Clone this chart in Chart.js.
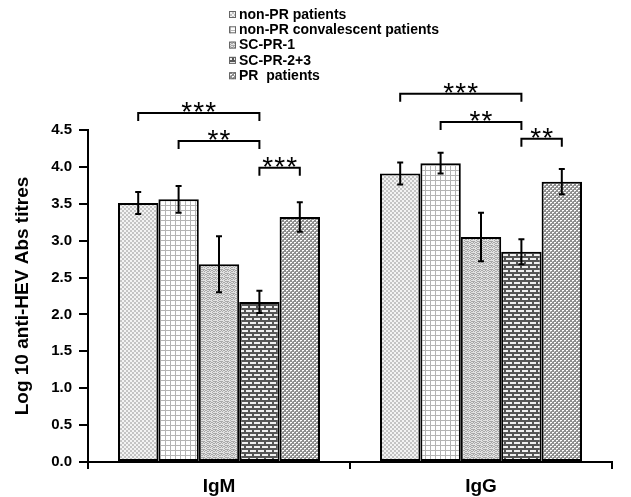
<!DOCTYPE html>
<html>
<head>
<meta charset="utf-8">
<script src="https://cdn.jsdelivr.net/npm/chart.js@4.4.1/dist/chart.umd.min.js"></script>
<style>
html,body{margin:0;padding:0;background:#fff;}
#wrap{width:631px;height:497px;}
</style>
</head>
<body>
<div id="wrap"><canvas id="c" width="631" height="497"></canvas></div>
<script>
// ---- data ----
const categories = ['IgM', 'IgG'];
const seriesLabels = ['non-PR patients', 'non-PR convalescent patients', 'SC-PR-1', 'SC-PR-2+3', 'PR  patients'];
const nonPR    = [3.51, 3.91];
const nonPRConv= [3.56, 4.05];
const scPR1    = [2.68, 3.05];
const scPR23   = [2.17, 2.85];
const prPat    = [3.32, 3.80];
const nonPRErr    = [0.15, 0.15];
const nonPRConvErr= [0.18, 0.14];
const scPR1Err    = [0.38, 0.33];
const scPR23Err   = [0.15, 0.17];
const prPatErr    = [0.20, 0.17];
const yMin = 0, yMax = 4.5, yStep = 0.5;
// significance brackets: category index, from series, to series, level, label
const bracketCat   = [0, 0, 0, 1, 1, 1];
const bracketFrom  = [0, 1, 3, 0, 1, 3];
const bracketTo    = [3, 3, 4, 3, 3, 4];
const bracketLevel = [4.73, 4.35, 3.99, 4.99, 4.61, 4.38];
const bracketLabel = ['***', '**', '***', '***', '**', '**'];

const seriesValues = [nonPR, nonPRConv, scPR1, scPR23, prPat];
const seriesErrors = [nonPRErr, nonPRConvErr, scPR1Err, scPR23Err, prPatErr];

// ---- patterns ----
function makePattern(w, h, draw) {
  const c = document.createElement('canvas');
  c.width = w; c.height = h;
  const g = c.getContext('2d');
  draw(g);
  return document.getElementById('c').getContext('2d').createPattern(c, 'repeat');
}
const patterns = [
  makePattern(4, 4, g => { g.fillStyle = '#f3f3f3'; g.fillRect(0,0,4,4); g.fillStyle = '#c4c4c4'; g.fillRect(0,0,2,2); g.fillRect(2,2,2,2); }),
  makePattern(5, 5, g => { g.fillStyle = '#ffffff'; g.fillRect(0,0,5,5); g.fillStyle = '#b4b4b4'; g.fillRect(0,0,5,1); g.fillRect(0,0,1,5); }),
  makePattern(6, 4, g => { g.fillStyle = '#a8a8a8'; g.fillRect(0,0,6,4); g.fillStyle = '#e2e2e2';
    g.fillRect(0,0,2,1); g.fillRect(1,1,2,1); g.fillRect(3,0,3,1);
    g.fillRect(0,2,1,1); g.fillRect(3,2,2,1); g.fillRect(1,3,2,1); g.fillRect(5,3,1,1); }),
  makePattern(8, 8, g => { g.fillStyle = '#f0f0f0'; g.fillRect(0,0,8,8); g.fillStyle = '#555555';
    g.fillRect(0,0,8,2); g.fillRect(0,4,8,2); g.fillRect(0,2,2,2); g.fillRect(4,6,2,2); }),
  makePattern(4, 4, g => { g.fillStyle = '#8e8e8e'; g.fillRect(0,0,4,4); g.fillStyle = '#ffffff'; g.fillRect(0,0,2,1); g.fillRect(2,2,2,1); g.fillStyle='#d0d0d0'; g.fillRect(0,1,1,1); g.fillRect(2,3,1,1); })
];

const FONT = '"Liberation Sans", Arial, sans-serif';

const overlay = {
  id: 'overlay',
  afterDatasetsDraw(chart) {
    const ctx = chart.ctx;
    const y = chart.scales.y;
    ctx.save();
    ctx.strokeStyle = '#000';
    ctx.lineWidth = 2;
    // error bars
    seriesValues.forEach((vals, di) => {
      const meta = chart.getDatasetMeta(di);
      vals.forEach((v, i) => {
        const bar = meta.data[i];
        const e = seriesErrors[di][i];
        const x = bar.x;
        const yt = y.getPixelForValue(v + e), yb = y.getPixelForValue(v - e);
        ctx.beginPath();
        ctx.moveTo(x, yt); ctx.lineTo(x, yb);
        ctx.moveTo(x - 3, yt); ctx.lineTo(x + 3, yt);
        ctx.moveTo(x - 3, yb); ctx.lineTo(x + 3, yb);
        ctx.stroke();
      });
    });
    // brackets
    ctx.font = '28px ' + FONT;
    ctx.fillStyle = '#000';
    ctx.textAlign = 'center';
    ctx.textBaseline = 'alphabetic';
    bracketLevel.forEach((lv, k) => {
      const x1 = chart.getDatasetMeta(bracketFrom[k]).data[bracketCat[k]].x;
      const x2 = chart.getDatasetMeta(bracketTo[k]).data[bracketCat[k]].x;
      const py = y.getPixelForValue(lv);
      ctx.beginPath();
      ctx.moveTo(x1, py + 8); ctx.lineTo(x1, py); ctx.lineTo(x2, py); ctx.lineTo(x2, py + 8);
      ctx.stroke();
      const chars = bracketLabel[k].split('');
      const step = 12;
      const cx = (x1 + x2) / 2;
      chars.forEach((ch, j) => {
        ctx.fillText(ch, cx + (j - (chars.length - 1) / 2) * step, py + 8);
      });
    });
    ctx.restore();
  },
  afterDraw(chart) {
    const ctx = chart.ctx;
    ctx.save();
    ctx.font = 'bold 14px ' + FONT;
    ctx.textBaseline = 'middle';
    ctx.textAlign = 'left';
    seriesLabels.forEach((lab, i) => {
      const cy = 15 + i * 15.3;
      ctx.fillStyle = patterns[i];
      ctx.fillRect(229, cy - 4, 7, 7);
      ctx.strokeStyle = '#666';
      ctx.lineWidth = 1;
      ctx.strokeRect(229.5, cy - 3.5, 6, 6);
      ctx.fillStyle = '#000';
      ctx.fillText(lab, 239, cy);
    });
    ctx.restore();
  }
};

new Chart(document.getElementById('c'), {
  type: 'bar',
  data: {
    labels: categories,
    datasets: seriesLabels.map((lab, i) => ({
      label: lab,
      data: seriesValues[i],
      backgroundColor: patterns[i],
      borderColor: '#000',
      borderWidth: 2,
      borderSkipped: false
    }))
  },
  options: {
    responsive: false,
    animation: false,
    devicePixelRatio: 1,
    layout: { padding: { top: 130, left: 11, right: 19, bottom: 0 } },
    datasets: { bar: { categoryPercentage: 0.771, barPercentage: 1.0 } },
    plugins: { legend: { display: false }, tooltip: { enabled: false } },
    scales: {
      x: {
        grid: { drawOnChartArea: false, drawTicks: true, tickLength: 7, color: '#000', lineWidth: 2 },
        border: { color: '#000', width: 2 },
        ticks: { color: '#000', font: { family: FONT, size: 19, weight: 'bold' }, padding: 6 },
        afterFit(s) { s.height = 35; }
      },
      y: {
        min: yMin, max: yMax,
        grid: { drawOnChartArea: false, drawTicks: true, tickLength: 9, color: '#000', lineWidth: 2 },
        border: { color: '#000', width: 2 },
        ticks: { stepSize: yStep, color: '#000', font: { family: FONT, size: 15, weight: 'bold' }, padding: 7,
                 callback: v => Number(v).toFixed(1) },
        title: { display: true, text: 'Log 10 anti-HEV Abs titres', color: '#000',
                 font: { family: FONT, size: 19, weight: 'bold' }, padding: 0 },
        afterFit(s) { s.width = 77; }
      }
    }
  },
  plugins: [overlay]
});
</script>
</body>
</html>
